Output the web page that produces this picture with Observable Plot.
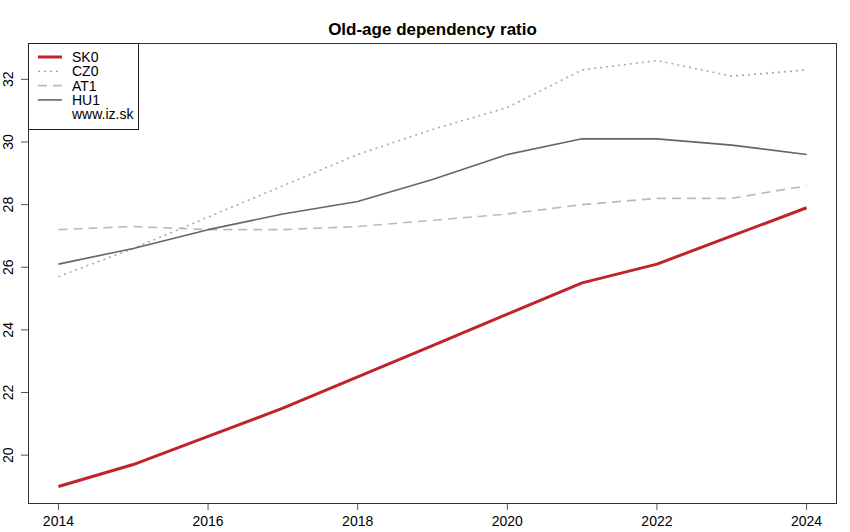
<!DOCTYPE html>
<html>
<head>
<meta charset="utf-8">
<script src="https://cdn.jsdelivr.net/npm/d3@7"></script>
<script src="https://cdn.jsdelivr.net/npm/@observablehq/plot@0.6"></script>
<style>
  html, body { margin: 0; padding: 0; background: #fff; }
  svg { display: block; }
</style>
</head>
<body>
<div id="chart"></div>
<script>
const title = "Old-age dependency ratio";
const years = [2014, 2015, 2016, 2017, 2018, 2019, 2020, 2021, 2022, 2023, 2024];
const SK0 = [19.0, 19.7, 20.6, 21.5, 22.5, 23.5, 24.5, 25.5, 26.1, 27.0, 27.9];
const CZ0 = [25.7, 26.6, 27.6, 28.6, 29.6, 30.4, 31.1, 32.3, 32.6, 32.1, 32.3];
const AT1 = [27.2, 27.3, 27.2, 27.2, 27.3, 27.5, 27.7, 28.0, 28.2, 28.2, 28.6];
const HU1 = [26.1, 26.6, 27.2, 27.7, 28.1, 28.8, 29.6, 30.1, 30.1, 29.9, 29.6];
const xTicks = [2014, 2016, 2018, 2020, 2022, 2024];
const yTicks = [20, 22, 24, 26, 28, 30, 32];
const legendLabels = ["SK0", "CZ0", "AT1", "HU1"];
const sourceLabel = "www.iz.sk";

const styles = {
  SK0: {stroke: "#c0232b", strokeWidth: 3, strokeDasharray: null},
  CZ0: {stroke: "#aaaaaa", strokeWidth: 1.6, strokeDasharray: "2,4"},
  AT1: {stroke: "#b6bbc3", strokeWidth: 1.6, strokeDasharray: "9,6"},
  HU1: {stroke: "#666666", strokeWidth: 1.6, strokeDasharray: null}
};
const seriesData = {SK0, CZ0, AT1, HU1};
const rows = (name) => years.map((y, i) => ({year: y, value: seriesData[name][i], series: name}));

const allVals = [...SK0, ...CZ0, ...AT1, ...HU1];
const yMin = d3.min(allVals), yMax = d3.max(allVals);
const yPad = (yMax - yMin) * 0.04;
const xPad = (d3.max(years) - d3.min(years)) * 0.04;

const font = "'Liberation Sans', Arial, Helvetica, sans-serif";

const lineMarks = ["AT1", "CZ0", "HU1", "SK0"].map(name =>
  Plot.line(rows(name), {
    x: "year", y: "value",
    stroke: styles[name].stroke,
    strokeWidth: styles[name].strokeWidth,
    strokeDasharray: styles[name].strokeDasharray,
    strokeLinejoin: "round",
    strokeLinecap: "butt"
  })
);

const chart = Plot.plot({
  width: 850,
  height: 532,
  marginLeft: 28,
  marginRight: 14,
  marginTop: 43,
  marginBottom: 29,
  style: {fontFamily: font, fontSize: "14px", color: "#000", background: "#fff"},
  x: {domain: [d3.min(years) - xPad, d3.max(years) + xPad]},
  y: {domain: [yMin - yPad, yMax + yPad]},
  marks: [
    Plot.axisX({ticks: xTicks, tickFormat: d => String(d), tickSize: 7, tickPadding: 6, label: null, stroke: "#555", fill: "#000", fontSize: 14}),
    Plot.axisY({ticks: yTicks, tickFormat: d => String(d), tickSize: 7, tickPadding: 9, tickRotate: -90, label: null, stroke: "#555", fill: "#000", fontSize: 14}),
    ...lineMarks,
    Plot.frame({stroke: "#333", strokeWidth: 1}),
    Plot.text([title], {frameAnchor: "top", dy: -21, text: d => d, fontWeight: "bold", fontSize: 17, fill: "#000"})
  ]
});

document.getElementById("chart").appendChild(chart);

// Legend overlay (R-style legend box in top-left of plot)
const svg = d3.select(chart);
const g = svg.append("g").attr("font-family", font).attr("font-size", 14).attr("text-anchor", "start");
const boxX = 28, boxY = 43, rowH = 14.3;
g.append("rect").attr("x", boxX + 0.5).attr("y", boxY + 0.5).attr("width", 110).attr("height", 86)
  .attr("fill", "#fff").attr("stroke", "#222").attr("stroke-width", 1);
legendLabels.forEach((name, i) => {
  const cy = boxY + 14 + i * rowH;
  g.append("line").attr("x1", boxX + 10).attr("x2", boxX + 34).attr("y1", cy).attr("y2", cy)
    .attr("stroke", styles[name].stroke).attr("stroke-width", styles[name].strokeWidth)
    .attr("stroke-dasharray", styles[name].strokeDasharray);
  g.append("text").attr("x", boxX + 44).attr("y", cy).attr("dy", "0.36em").attr("text-anchor", "start").text(name);
});
g.append("text").attr("x", boxX + 44).attr("y", boxY + 14 + 4 * rowH).attr("dy", "0.36em").attr("text-anchor", "start").text(sourceLabel);
</script>
</body>
</html>
